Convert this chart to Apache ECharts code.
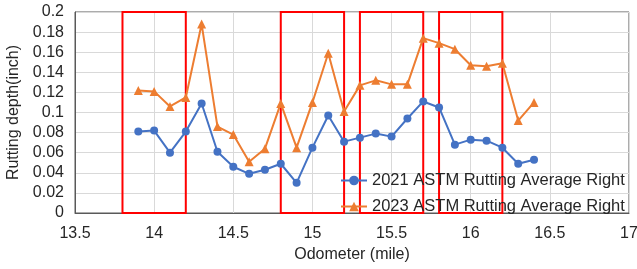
<!DOCTYPE html>
<html lang="en">
<head>
    <meta charset="UTF-8"/>
    <title>Rutting depth vs odometer</title>
    <script src="https://cdn.jsdelivr.net/npm/echarts@6/dist/echarts.min.js"></script>
    <style>
        body {
            margin: 0;
            background-color: #fff;
        }

        #chart {
            width: 637px;
            height: 269px;
        }
    </style>
</head>
<body>
<div id="chart"></div>
<script>
    const odometer = [13.9, 14.0, 14.1, 14.2, 14.3, 14.4, 14.5, 14.6, 14.7, 14.8, 14.9, 15.0, 15.1,
        15.2, 15.3, 15.4, 15.5, 15.6, 15.7, 15.8, 15.9, 16.0, 16.1, 16.2, 16.3, 16.4];
    const rut2021 = [0.081, 0.082, 0.060, 0.081, 0.109, 0.061, 0.046, 0.039, 0.043, 0.049, 0.030, 0.065, 0.097,
        0.071, 0.075, 0.079, 0.076, 0.094, 0.111, 0.105, 0.068, 0.073, 0.072, 0.065, 0.049, 0.053];
    const rut2023 = [0.122, 0.121, 0.106, 0.115, 0.188, 0.086, 0.078, 0.051, 0.064, 0.109, 0.065, 0.110, 0.159,
        0.101, 0.127, 0.132, 0.128, 0.128, 0.174, 0.169, 0.163, 0.147, 0.146, 0.149, 0.092, 0.110];
    // red boxes (start, end mile)
    const zones = [[13.8, 14.2], [14.8, 15.2], [15.3, 15.7], [15.8, 16.2]];
    const seriesNames = ['2021 ASTM Rutting Average Right', '2023 ASTM Rutting Average Right'];

    const font = 'Liberation Sans, Arial, sans-serif';
    const textColor = '#262626';

    function pairs(ys) {
        return odometer.map((x, i) => [x, ys[i]]);
    }

    const chart = echarts.init(document.getElementById('chart'));
    chart.setOption({
        animation: false,
        textStyle: {fontFamily: font},
        grid: {
            left: 75, right: 8, top: 12, bottom: 56,
            outerBoundsMode: 'none',
            show: true, borderColor: '#595959', borderWidth: 1
        },
        legend: {
            orient: 'vertical',
            left: 335,
            top: 167,
            itemWidth: 26,
            itemHeight: 12,
            itemGap: 9,
            textStyle: {fontSize: 16.5, color: textColor, fontFamily: font},
            data: seriesNames
        },
        xAxis: {
            type: 'value',
            min: 13.5,
            max: 17,
            interval: 0.5,
            name: 'Odometer (mile)',
            nameLocation: 'middle',
            nameGap: 33,
            nameTextStyle: {fontSize: 16, color: textColor},
            axisLine: {show: true, lineStyle: {color: '#595959'}},
            axisTick: {show: false},
            axisLabel: {fontSize: 16, color: textColor, margin: 13},
            splitLine: {show: true, lineStyle: {color: '#d9d9d9'}}
        },
        yAxis: {
            type: 'value',
            min: 0,
            max: 0.2,
            interval: 0.02,
            name: 'Rutting depth(inch)',
            nameLocation: 'middle',
            nameGap: 49,
            nameTextStyle: {fontSize: 16, color: textColor},
            axisLine: {show: true, lineStyle: {color: '#595959'}},
            axisTick: {show: false},
            axisLabel: {fontSize: 16, color: textColor, margin: 11},
            splitLine: {show: true, lineStyle: {color: '#d9d9d9'}}
        },
        series: [
            {
                name: seriesNames[0],
                type: 'line',
                data: pairs(rut2021),
                symbol: 'circle',
                symbolSize: 8,
                color: '#4472C4',
                lineStyle: {width: 2}
            },
            {
                name: seriesNames[1],
                type: 'line',
                data: pairs(rut2023),
                symbol: 'triangle',
                symbolSize: 9,
                color: '#ED7D31',
                lineStyle: {width: 2},
                markArea: {
                    silent: true,
                    itemStyle: {color: 'rgba(0,0,0,0)', borderColor: '#ff0000', borderWidth: 2},
                    data: zones.map(z => [{xAxis: z[0], yAxis: 0}, {xAxis: z[1], yAxis: 0.2}])
                }
            }
        ]
    });
</script>
</body>
</html>
